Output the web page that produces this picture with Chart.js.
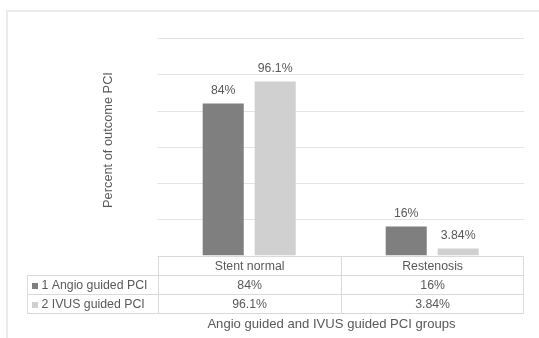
<!DOCTYPE html>
<html>
<head>
<meta charset="utf-8">
<script src="https://cdn.jsdelivr.net/npm/chart.js@4/dist/chart.umd.min.js"></script>
<style>
  html, body { margin: 0; padding: 0; background: #ffffff; }
  #wrap { width: 539px; height: 338px; position: relative; }
</style>
</head>
<body>
<div id="wrap"><canvas id="c" width="539" height="338"></canvas></div>
<script>
// Outcome categories and the two PCI groups (percent of patients)
const categories = ['Stent normal', 'Restenosis'];
const seriesNames = ['1 Angio guided PCI', '2 IVUS guided PCI'];
const angioValues = [84, 16];
const ivusValues = [96.1, 3.84];
const yTicks = [0, 20, 40, 60, 80, 100, 120];
const yTitle = 'Percent of outcome PCI';
const xTitle = 'Angio guided and IVUS guided PCI groups';

const seriesColors = ['#7f7f7f', '#d0d0d0'];
const textColor = '#595959';
const lineColor = '#d9d9d9';
const FAMILY = '"Liberation Sans", Arial, sans-serif';
const FONT = '12.3px ' + FAMILY;
const TITLE_FONT_X = '13.1px ' + FAMILY;
const TITLE_FONT_Y = '12.8px ' + FAMILY;

const fmt = v => String(v) + '%';

// Light frame along the top and left edge
const framePlugin = {
  id: 'frame',
  beforeDraw(chart) {
    const ctx = chart.ctx;
    ctx.save();
    ctx.strokeStyle = '#ebebeb';
    ctx.lineWidth = 2;
    ctx.beginPath();
    ctx.moveTo(7, 339);
    ctx.lineTo(7, 11);
    ctx.lineTo(540, 11);
    ctx.stroke();
    ctx.restore();
  }
};

// Horizontal gridlines at each value tick
const gridPlugin = {
  id: 'hgrid',
  beforeDatasetsDraw(chart) {
    const { ctx, chartArea, scales } = chart;
    ctx.save();
    ctx.strokeStyle = '#e3e3e3';
    ctx.lineWidth = 1;
    yTicks.forEach(v => {
      const y = Math.round(scales.y.getPixelForValue(v)) + 0.5;
      ctx.beginPath();
      ctx.moveTo(chartArea.left, y);
      ctx.lineTo(chartArea.right, y);
      ctx.stroke();
    });
    ctx.restore();
  }
};

// Value labels above each bar
const labelPlugin = {
  id: 'valueLabels',
  afterDatasetsDraw(chart) {
    const ctx = chart.ctx;
    ctx.save();
    ctx.font = FONT;
    ctx.fillStyle = textColor;
    ctx.textAlign = 'center';
    ctx.textBaseline = 'middle';
    chart.data.datasets.forEach((ds, di) => {
      chart.getDatasetMeta(di).data.forEach((el, i) => {
        ctx.fillText(fmt(ds.data[i]), el.x, el.y - 13);
      });
    });
    ctx.restore();
  }
};

// Data table under the plot, plus axis titles
const tablePlugin = {
  id: 'dataTable',
  afterDraw(chart) {
    const { ctx, chartArea, scales } = chart;
    const left = chartArea.left, right = chartArea.right;
    const tableLeft = 27;
    const rowH = 19;
    const y0 = Math.round(scales.y.getPixelForValue(0)) + 0.5;
    const rows = [y0, y0 + rowH, y0 + 2 * rowH, y0 + 3 * rowH];
    const mid = Math.round((scales.x.getPixelForValue(0) + scales.x.getPixelForValue(1)) / 2) + 0.5;

    ctx.save();
    ctx.strokeStyle = lineColor;
    ctx.lineWidth = 1;
    ctx.beginPath();
    ctx.moveTo(left, rows[0]); ctx.lineTo(right, rows[0]);
    for (let r = 1; r < 4; r++) { ctx.moveTo(tableLeft, rows[r]); ctx.lineTo(right, rows[r]); }
    ctx.moveTo(tableLeft + 0.5, rows[1]); ctx.lineTo(tableLeft + 0.5, rows[3]);
    ctx.moveTo(Math.round(left) + 0.5, rows[0]); ctx.lineTo(Math.round(left) + 0.5, rows[3]);
    ctx.moveTo(mid, rows[0]); ctx.lineTo(mid, rows[3]);
    ctx.moveTo(Math.round(right) - 0.5, rows[0]); ctx.lineTo(Math.round(right) - 0.5, rows[3]);
    ctx.stroke();

    ctx.font = FONT;
    ctx.fillStyle = textColor;
    ctx.textBaseline = 'middle';
    ctx.textAlign = 'center';
    const colCenters = [ (left + mid) / 2, (mid + right) / 2 ];
    categories.forEach((c, i) => ctx.fillText(c, colCenters[i], (rows[0] + rows[1]) / 2 + 0.5));

    chart.data.datasets.forEach((ds, di) => {
      const cy = (rows[di + 1] + rows[di + 2]) / 2 + 0.5;
      ds.data.forEach((v, i) => {
        ctx.textAlign = 'center';
        ctx.fillText(fmt(v), colCenters[i], cy);
      });
      ctx.fillStyle = seriesColors[di];
      ctx.fillRect(32, Math.round(cy) - 3, 6, 6);
      ctx.fillStyle = textColor;
      ctx.textAlign = 'left';
      ctx.fillText(ds.label, 41.5, cy);
    });

    // axis titles
    ctx.textAlign = 'center';
    ctx.font = TITLE_FONT_X;
    ctx.fillText(xTitle, 331.5, 324);
    ctx.font = TITLE_FONT_Y;
    ctx.translate(108, 140);
    ctx.rotate(-Math.PI / 2);
    ctx.fillText(yTitle, 0, 0);
    ctx.restore();
  }
};

new Chart(document.getElementById('c'), {
  type: 'bar',
  data: {
    labels: categories,
    datasets: [
      { label: seriesNames[0], data: angioValues, backgroundColor: seriesColors[0] },
      { label: seriesNames[1], data: ivusValues, backgroundColor: seriesColors[1] }
    ]
  },
  options: {
    responsive: false,
    animation: false,
    devicePixelRatio: 1,
    layout: { padding: { left: 157.7, right: 15.3, top: 38.3, bottom: 82.5 } },
    datasets: { bar: { categoryPercentage: 0.568, barPercentage: 0.79 } },
    scales: {
      x: { display: false },
      y: { display: false, min: 0, max: 120 }
    },
    plugins: { legend: { display: false }, tooltip: { enabled: false } }
  },
  plugins: [framePlugin, gridPlugin, labelPlugin, tablePlugin]
});
</script>
</body>
</html>
